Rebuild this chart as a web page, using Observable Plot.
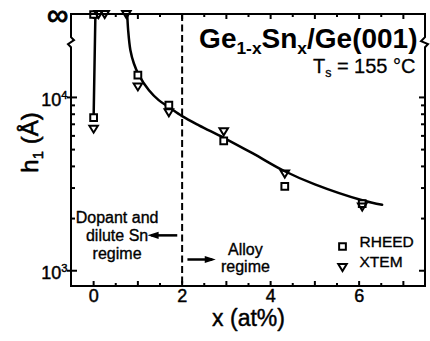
<!DOCTYPE html>
<html><head><meta charset="utf-8">
<script src="https://cdn.jsdelivr.net/npm/d3@7"></script>
<script src="https://cdn.jsdelivr.net/npm/@observablehq/plot@0.6"></script>
<style>body{margin:0;background:#fff}</style>
</head><body><div id="chart"></div>
<script>
const INF = Infinity;
// RHEED measurements (x in at%, h1 in Å; Infinity = no roughening observed)
const rheedX = [0, 0, 1.0, 1.70, 2.94, 4.32, 6.07];
const rheedH = [INF, 7650, 13450, 9030, 5610, 3070, 2440];
// XTEM measurements
const xtemX = [0.11, 0.25, 0.74, 0, 1.0, 1.70, 2.94, 4.32, 6.07];
const xtemH = [INF, INF, INF, 6560, 11500, 8150, 6330, 3610, 2330];
// guide-to-the-eye curves
const fitX = [0.76, 0.78, 0.83, 0.91, 1.02, 1.25, 1.47, 1.70, 2.0, 2.38, 2.94, 3.6, 4.32, 5.0, 6.07, 6.52];
const fitH = [INF, 24500, 18800, 15700, 13500, 11000, 9650, 8800, 7800, 6900, 5850, 4750, 3750, 3150, 2550, 2400];
const dilX = [0.04, 0];
const dilH = [INF, 7650];
const regimeBoundary = [2];
// axes
const xDomain = [-0.5, 7.5];
const yDomain = [811, 30100];   // top edge = "∞"
const yBreak = 20700;
const xTickMajor = [0, 1, 2, 3, 4, 5, 6, 7];
const xTickMinor = [0.5, 1.5, 2.5, 3.5, 4.5, 5.5, 6.5];
const xTickLabels = [0, 2, 4, 6];
const yTickMajor = [1000, 10000];
const yTickMinor = [2000, 3000, 4000, 5000, 6000, 7000, 8000, 9000];
// texts
const title = "Ge_{1-x}Sn_{x}/Ge(001)";
const subtitle = "T_{s} = 155 °C";
const xLabel = "x (at%)";
const yLabel = "h_{1} (Å)";
const legendLabels = ["RHEED", "XTEM"];
const regimeLeftText = "Dopant and\ndilute Sn\nregime";
const regimeRightText = "Alloy\nregime";

const yInf = yDomain[1];
const hv = h => (isFinite(h) ? h : yInf);
const rows = (xs, hs) => xs.map((x, i) => ({x, h: hv(hs[i])}));

const W = 430, H = 341, mT = 14, mB = 55, mL = 71, mR = 5;
const FH = H - mT - mB, FW = W - mL - mR;

const triDown = {draw(ctx, size) {
  const r = Math.sqrt(size / Math.PI), w = 1.15 * r, h = 0.95 * r;
  ctx.moveTo(-w, -h); ctx.lineTo(w, -h); ctx.lineTo(0, h); ctx.closePath();
}};
const headRight = {draw(ctx, size) {
  const a = Math.sqrt(size / Math.PI);
  ctx.moveTo(0, 0); ctx.lineTo(-2 * a, -0.65 * a); ctx.lineTo(-2 * a, 0.65 * a); ctx.closePath();
}};
const headLeft = {draw(ctx, size) {
  const a = Math.sqrt(size / Math.PI);
  ctx.moveTo(0, 0); ctx.lineTo(2 * a, -0.65 * a); ctx.lineTo(2 * a, 0.65 * a); ctx.closePath();
}};

const sw = 2;
const ink = {fill: "black", stroke: "black", strokeWidth: 0.45};
const chart = Plot.plot({
  width: W, height: H,
  marginTop: mT, marginBottom: mB, marginLeft: mL, marginRight: mR,
  style: {fontFamily: "'Liberation Sans', Arial, sans-serif", background: "white", color: "black"},
  x: {domain: xDomain, axis: null},
  y: {type: "log", domain: yDomain, axis: null},
  marks: [
    Plot.ruleX(regimeBoundary, {x: d => d, strokeWidth: 2, strokeDasharray: "7,3.5"}),
    // ticks (inward)
    Plot.tickX(xTickMajor, {x: d => d, insetTop: FH - 5, strokeWidth: sw}),
    Plot.tickX(xTickMinor, {x: d => d, insetTop: FH - 3, strokeWidth: sw}),
    Plot.tickX(xTickMajor, {x: d => d, insetBottom: FH - 5, strokeWidth: sw}),
    Plot.tickX(xTickMinor, {x: d => d, insetBottom: FH - 3, strokeWidth: sw}),
    Plot.tickY(yTickMajor, {y: d => d, insetLeft: -4, insetRight: FW - 6, strokeWidth: sw}),
    Plot.tickY(yTickMinor, {y: d => d, insetRight: FW - 4, strokeWidth: sw}),
    Plot.tickY(yTickMajor, {y: d => d, insetLeft: FW - 6, strokeWidth: sw}),
    Plot.tickY(yTickMinor, {y: d => d, insetLeft: FW - 4, strokeWidth: sw}),
    // curves
    Plot.line(rows(fitX, fitH), {x: "x", y: "h", curve: "catmull-rom", strokeWidth: 2.5}),
    Plot.line(rows(dilX, dilH), {x: "x", y: "h", strokeWidth: 2.5}),
    // data
    Plot.dot(rows(rheedX, rheedH), {x: "x", y: "h", symbol: "square", r: 3.8, stroke: "black", strokeWidth: 2, fill: "white"}),
    Plot.dot(rows(xtemX, xtemH), {x: "x", y: "h", symbol: triDown, r: 3.7, stroke: "black", strokeWidth: 2, fill: "none"}),
    // tick labels
    Plot.text(xTickLabels, {x: d => d, frameAnchor: "bottom", dy: 15, fontSize: 18, ...ink, text: d => String(d)}),
    Plot.text(yTickMajor, {y: d => d, frameAnchor: "left", textAnchor: "end", dx: -4, dy: 3, fontSize: 18, ...ink,
      text: d => `10^{${Math.round(Math.log10(d))}}`}),
    Plot.text([yInf], {y: d => d, frameAnchor: "left", textAnchor: "end", dx: -3, dy: 1, fontSize: 30, ...ink, strokeWidth: 0.9, text: () => "∞"}),
    // axis labels
    Plot.text([xLabel], {frameAnchor: "bottom", textAnchor: "middle", dy: 39, fontSize: 23, ...ink, text: d => d}),
    Plot.text([yLabel], {frameAnchor: "left", textAnchor: "middle", dx: -41, dy: -8, rotate: -90, fontSize: 24, ...ink, strokeWidth: 0.6, text: d => d}),
    // title
    Plot.text([title], {frameAnchor: "top-right", dx: -8, dy: 33, lineAnchor: "bottom", textAnchor: "end",
      fontSize: 28, fontWeight: "bold", text: d => d}),
    Plot.text([subtitle], {frameAnchor: "top-right", dx: -10, dy: 58.5, lineAnchor: "bottom", textAnchor: "end",
      fontSize: 20, ...ink, strokeWidth: 0.3, text: d => d}),
    // regime annotations
    Plot.text([regimeLeftText], {x: 0.53, y: 1600, fontSize: 16, lineHeight: 1.1, ...ink, strokeWidth: 0.35, text: d => d}),
    Plot.text([regimeRightText], {x: 3.43, y: 1186, fontSize: 16, lineHeight: 1.1, ...ink, strokeWidth: 0.35, text: d => d}),
    Plot.link([0], {x1: 1.89, x2: 1.3, y1: 1600, y2: 1600, strokeWidth: 2.5}),
    Plot.dot([0], {x: 1.22, y: 1600, symbol: headLeft, r: 5.5, fill: "black", stroke: "none"}),
    Plot.link([0], {x1: 2.12, x2: 2.68, y1: 1161, y2: 1161, strokeWidth: 2.5}),
    Plot.dot([0], {x: 2.76, y: 1161, symbol: headRight, r: 5.5, fill: "black", stroke: "none"}),
    // legend
    Plot.dot([legendLabels[0]], {frameAnchor: "bottom-right", dx: -83, dy: -40, symbol: "square", r: 3.8,
      stroke: "black", strokeWidth: 2, fill: "white"}),
    Plot.dot([legendLabels[1]], {frameAnchor: "bottom-right", dx: -83, dy: -19, symbol: triDown, r: 3.7,
      stroke: "black", strokeWidth: 2, fill: "none"}),
    Plot.text([legendLabels[0]], {frameAnchor: "bottom-right", dx: -66, dy: -40, textAnchor: "start", fontSize: 15.5, ...ink, strokeWidth: 0.35, text: d => d}),
    Plot.text([legendLabels[1]], {frameAnchor: "bottom-right", dx: -66, dy: -19.5, textAnchor: "start", fontSize: 15.5, ...ink, strokeWidth: 0.35, text: d => d})
  ]
});
document.getElementById("chart").appendChild(chart);

// frame with axis breaks, positioned through the plot's scales
(function drawFrame() {
  const xs = chart.scale("x"), ys = chart.scale("y");
  const L = xs.apply(xDomain[0]), R = xs.apply(xDomain[1]);
  const T = ys.apply(yDomain[1]), B = ys.apply(yDomain[0]);
  const yb = ys.apply(yBreak);
  const g = d3.select(chart).append("g").attr("fill", "none").attr("stroke", "black")
    .attr("stroke-width", 2).attr("stroke-linejoin", "miter");
  g.append("path").attr("d", `M${L - 1},${T}H${R + 1}`);
  g.append("path").attr("d", `M${L - 1},${B}H${R + 1}`);
  g.append("path").attr("d", `M${L},${T}V${yb - 5}L${L + 3},${yb - 2}L${L - 3},${yb + 2}L${L},${yb + 5}V${B}`);
  g.append("path").attr("d", `M${R},${T}V${yb - 5}L${R - 4},${yb - 1}L${R + 3},${yb + 2}L${R},${yb + 5}V${B}`);
})();

// rich text: _{sub} and ^{sup}
(function richify() {
  const ns = "http://www.w3.org/2000/svg";
  chart.querySelectorAll("text").forEach(t => {
    const s = t.textContent;
    if (!/[_^]\{/.test(s) || t.querySelector("tspan")) return;
    const fs = parseFloat(getComputedStyle(t).fontSize);
    const parts = [];
    let last = 0, m;
    const re = /([_^])\{([^}]*)\}/g;
    while ((m = re.exec(s))) {
      if (m.index > last) parts.push({type: "", text: s.slice(last, m.index)});
      parts.push({type: m[1], text: m[2]});
      last = re.lastIndex;
    }
    if (last < s.length) parts.push({type: "", text: s.slice(last)});
    t.textContent = "";
    let shift = 0;
    parts.forEach(p => {
      const ts = document.createElementNS(ns, "tspan");
      const target = p.type === "_" ? fs * 0.22 : p.type === "^" ? -fs * 0.4 : 0;
      const d = target - shift;
      if (d) ts.setAttribute("dy", d);
      shift = target;
      if (p.type) ts.setAttribute("font-size", fs * 0.62);
      ts.textContent = p.text;
      t.appendChild(ts);
    });
  });
})();
</script>
</body></html>
